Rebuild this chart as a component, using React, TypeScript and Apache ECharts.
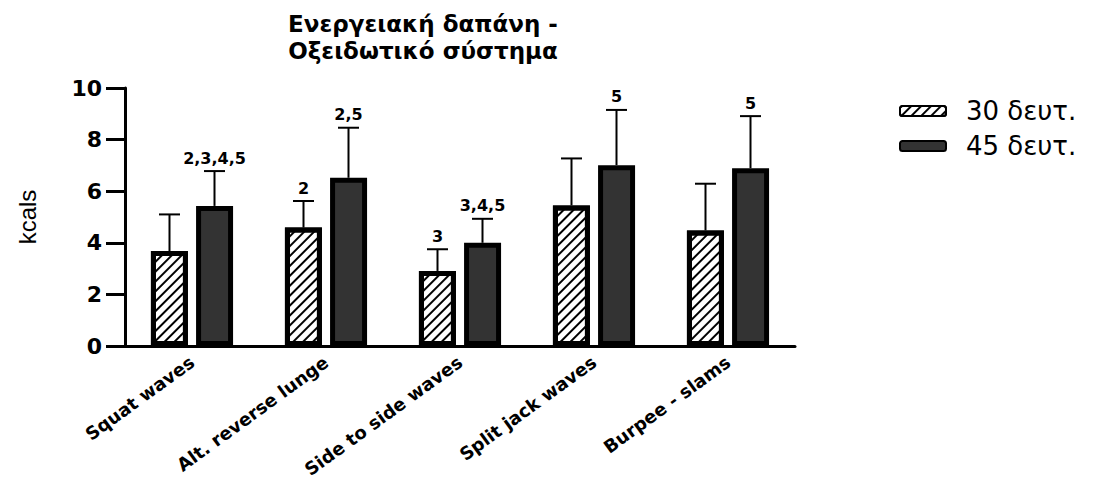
import React, { useEffect, useRef } from "react";
import * as echarts from "echarts";

const categories = ["Squat waves", "Alt. reverse lunge", "Side to side waves", "Split jack waves", "Burpee - slams"];
const seriesNames = ["30 δευτ.", "45 δευτ."];
const values30 = [3.68, 4.59, 2.91, 5.45, 4.48];
const errTop30 = [5.1, 5.62, 3.75, 7.27, 6.29];
const values45 = [5.43, 6.52, 4.0, 7.01, 6.89];
const errTop45 = [6.78, 8.46, 4.93, 9.15, 8.91];
const notes30 = ["", "2", "3", "", ""];
const notes45 = ["2,3,4,5", "2,5", "3,4,5", "5", "5"];
const yTicks = [0, 2, 4, 6, 8, 10];

const BAR_W = 37;
const OFFSET = 22.5;

export default function App() {
  const ref = useRef<HTMLDivElement>(null);
  useEffect(() => {
    if (!ref.current) return;
    const chart = echarts.init(ref.current, undefined, { renderer: "svg" });
    const errData: any[] = [];
    categories.forEach((c, i) => {
      errData.push([i, values30[i], errTop30[i], -1, notes30[i]]);
      errData.push([i, values45[i], errTop45[i], 1, notes45[i]]);
    });
    const font = "DejaVu Sans, Verdana, sans-serif";
    chart.setOption({
      animation: false,
      title: {
        text: "Ενεργειακή δαπάνη -\nΟξειδωτικό σύστημα",
        left: 418,
        top: 5,
        textAlign: "center",
        textStyle: { fontFamily: font, fontWeight: "bold", fontSize: 23, lineHeight: 27, color: "#000" },
      },
      legend: {
        orient: "vertical",
        left: 894,
        top: 93,
        itemWidth: 46,
        itemHeight: 10,
        itemGap: 9,
        textStyle: { fontFamily: font, fontSize: 26, color: "#000", padding: [0, 0, 0, 15] },
        data: seriesNames,
      },
      grid: { left: 125, right: 309, top: 88, bottom: 137 },
      xAxis: {
        type: "category",
        data: categories,
        axisLine: { lineStyle: { color: "#000", width: 3 } },
        axisTick: { alignWithLabel: true, length: 12, lineStyle: { color: "#000", width: 3 } },
        axisLabel: { rotate: 36, margin: 14, fontFamily: font, fontWeight: "bold", fontSize: 18, color: "#000" },
      },
      yAxis: {
        type: "value",
        min: yTicks[0],
        max: yTicks[yTicks.length - 1],
        interval: 2,
        name: "kcals",
        nameLocation: "middle",
        nameGap: 86,
        nameTextStyle: { fontFamily: "Liberation Sans Narrow, Arial Narrow, sans-serif", fontSize: 24, color: "#000" },
        splitLine: { show: false },
        axisLine: { show: true, lineStyle: { color: "#000", width: 3 } },
        axisTick: { show: true, length: 19, lineStyle: { color: "#000", width: 3 } },
        axisLabel: { margin: 23, fontFamily: font, fontWeight: "bold", fontSize: 22, color: "#000" },
      },
      series: [
        {
          name: seriesNames[0],
          type: "bar",
          data: values30,
          barWidth: BAR_W,
          barGap: "22%",
          itemStyle: {
            color: "#fff",
            borderColor: "#000",
            borderWidth: 5,
            decal: {
              symbol: "rect",
              symbolSize: 1,
              dashArrayX: [1, 0],
              dashArrayY: [2, 5],
              rotation: -Math.PI / 4,
              color: "#000",
              backgroundColor: "#fff",
            },
          },
        },
        {
          name: seriesNames[1],
          type: "bar",
          data: values45,
          barWidth: BAR_W,
          itemStyle: { color: "#333", borderColor: "#000", borderWidth: 5 },
        },
        {
          type: "custom",
          data: errData,
          z: 10,
          renderItem: (params: any, api: any) => {
            const i = api.value(0);
            const side = api.value(3);
            const base = api.coord([i, api.value(1)]);
            const top = api.coord([i, api.value(2)]);
            const x = base[0] + side * OFFSET;
            const note = errData[params.dataIndex][4];
            const children: any[] = [
              { type: "line", shape: { x1: x, y1: base[1], x2: x, y2: top[1] }, style: { stroke: "#000", lineWidth: 2 } },
              { type: "line", shape: { x1: x - 10.5, y1: top[1], x2: x + 10.5, y2: top[1] }, style: { stroke: "#000", lineWidth: 2 } },
            ];
            if (note) {
              children.push({
                type: "text",
                x: x,
                y: top[1] - 5,
                style: {
                  text: note,
                  textAlign: "center",
                  textVerticalAlign: "bottom",
                  fontFamily: font,
                  fontWeight: "bold",
                  fontSize: 16,
                  fill: "#000",
                },
              });
            }
            return { type: "group", children };
          },
        },
      ],
    });
    return () => chart.dispose();
  }, []);
  return <div ref={ref} style={{ position: "fixed", left: 0, top: 0, width: 1104, height: 483, background: "#fff" }} />;
}
